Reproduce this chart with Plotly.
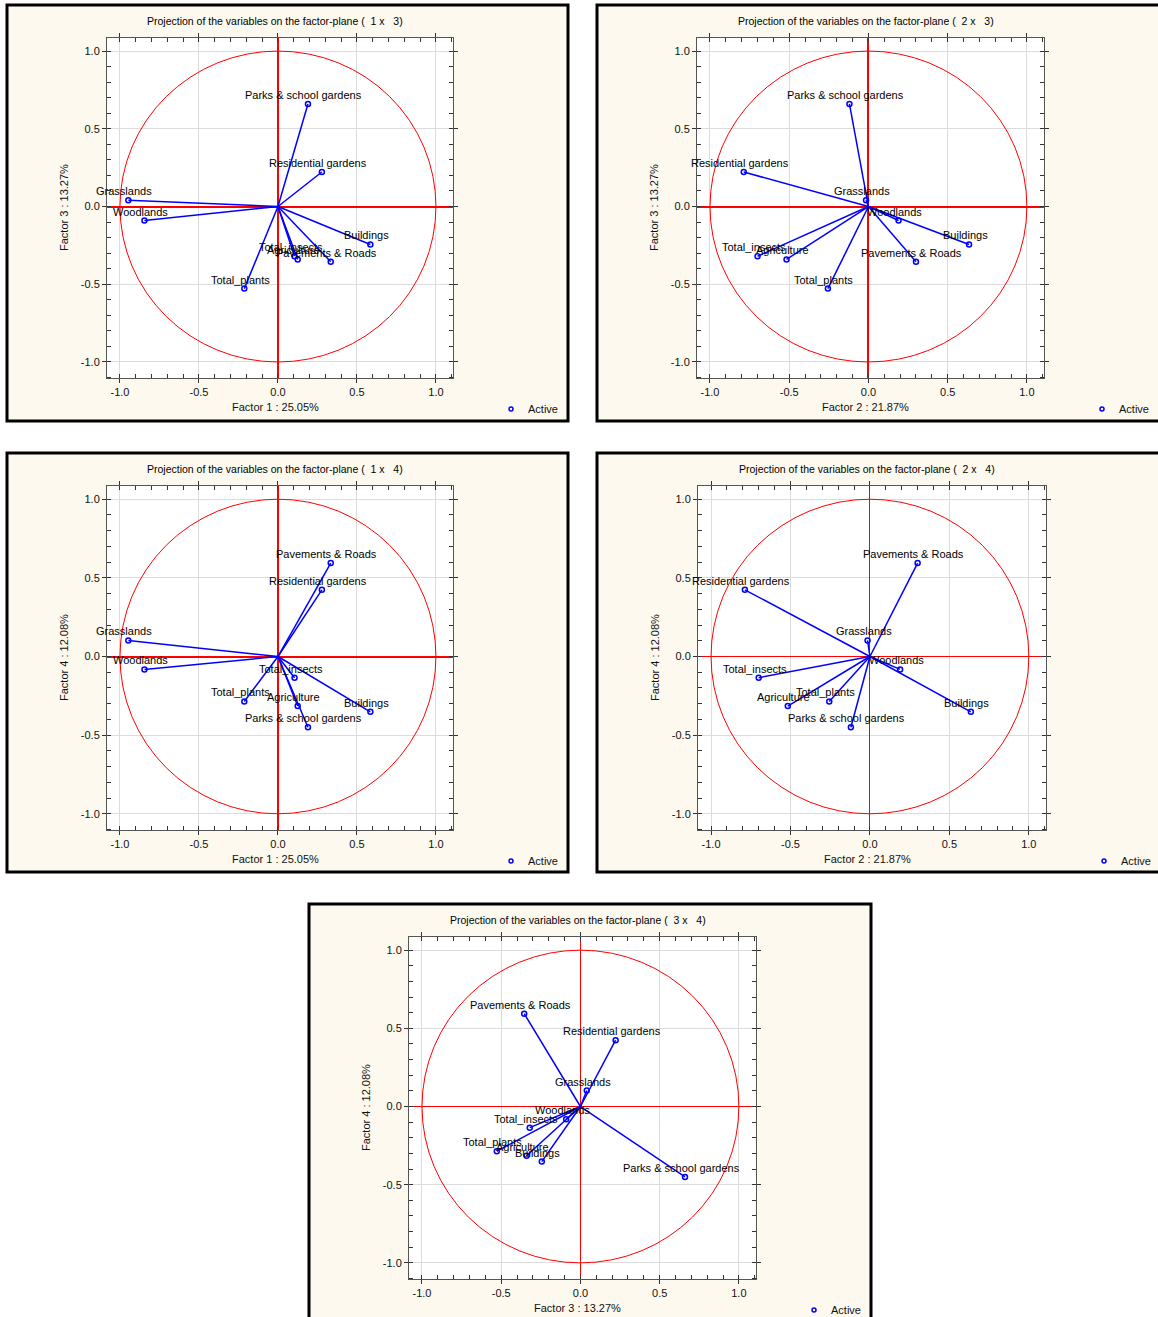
import plotly.graph_objects as go

# ---------------- data ----------------
variables = ["Grasslands", "Woodlands", "Parks & school gardens", "Residential gardens",
             "Buildings", "Pavements & Roads", "Agriculture", "Total_insects", "Total_plants"]
factor1 = [-0.947, -0.845, 0.19, 0.278, 0.585, 0.334, 0.125, 0.105, -0.213]
factor2 = [-0.015, 0.19, -0.12, -0.787, 0.635, 0.30, -0.517, -0.70, -0.256]
factor3 = [0.04, -0.09, 0.66, 0.222, -0.244, -0.355, -0.34, -0.32, -0.528]
factor4 = [0.102, -0.082, -0.45, 0.424, -0.352, 0.594, -0.315, -0.135, -0.286]
factor_names = ["Factor 1 : 25.05%", "Factor 2 : 21.87%", "Factor 3 : 13.27%", "Factor 4 : 12.08%"]
tick_values = [-1.0, -0.5, 0.0, 0.5, 1.0]
tick_labels = ["-1.0", "-0.5", "0.0", "0.5", "1.0"]
panels = [(1, 3), (2, 3), (1, 4), (2, 4), (3, 4)]
legend_label = "Active"

factors = {1: factor1, 2: factor2, 3: factor3, 4: factor4}

# ---------------- geometry (pixels) ----------------
W, H = 1158, 1317
frames = [(7, 5, 568, 421), (597, 5, 1165, 421), (7, 453, 568, 872),
          (597, 453, 1165, 872), (309, 904, 871, 1325)]
plots = [(107, 38, 453, 378), (697, 38, 1044, 378), (107, 486, 453, 830),
         (698, 486, 1046, 830), (409, 937, 756, 1279)]
zero_w = [2, 2, 2, 1, 1]

def px(x):
    return x / W

def py(y):
    return 1 - y / H

FONT = "Liberation Sans, Arial, sans-serif"
CREAM = "#FDF9EE"
BLUE = "#0000FF"
RED = "#FF0000"

fig = go.Figure()
shapes = []
annotations = []
layout_axes = {}

for i, ((fa, fb), fr, pl) in enumerate(zip(panels, frames, plots)):
    n = i + 1
    xa = "x" if n == 1 else f"x{n}"
    ya = "y" if n == 1 else f"y{n}"
    xs = factors[fa]
    ys = factors[fb]

    # frame and plot background
    shapes.append(dict(type="rect", xref="paper", yref="paper",
                       x0=px(fr[0]), x1=px(fr[2]), y0=py(fr[3]), y1=py(fr[1]),
                       fillcolor=CREAM, line=dict(color="black", width=3), layer="below"))
    shapes.append(dict(type="rect", xref="paper", yref="paper",
                       x0=px(pl[0]), x1=px(pl[2]), y0=py(pl[3]), y1=py(pl[1]),
                       fillcolor="white", line=dict(width=0), layer="below"))
    # unit circle
    shapes.append(dict(type="circle", xref=xa, yref=ya, x0=-1, y0=-1, x1=1, y1=1,
                       line=dict(color=RED, width=1), layer="above"))

    # vectors from origin
    lx, ly = [], []
    for a, b in zip(xs, ys):
        lx += [0, a, None]
        ly += [0, b, None]
    fig.add_trace(go.Scatter(x=lx, y=ly, xaxis=xa, yaxis=ya, mode="lines",
                             line=dict(color=BLUE, width=1.5), showlegend=False,
                             hoverinfo="skip"))
    fig.add_trace(go.Scatter(x=xs, y=ys, xaxis=xa, yaxis=ya, mode="markers",
                             marker=dict(symbol="circle-open", size=5, color=BLUE,
                                         line=dict(width=1.5, color=BLUE)),
                             showlegend=False, text=variables))
    for name, a, b in zip(variables, xs, ys):
        annotations.append(dict(x=a, y=b, xref=xa, yref=ya, text=name, showarrow=False,
                                xanchor="center", yanchor="bottom", xshift=-4, yshift=1,
                                font=dict(family=FONT, size=11, color="black")))

    # axes
    x0p, y0p, x1p, y1p = pl
    common = dict(tickvals=tick_values, ticktext=tick_labels, ticks="outside", ticklen=4,
                  tickcolor="#333333", showline=True, mirror="ticks", linecolor="#555555",
                  linewidth=1, showgrid=True, gridcolor="#DCDCDC", gridwidth=1,
                  zeroline=True, zerolinecolor=RED, zerolinewidth=zero_w[i],
                  tickfont=dict(family=FONT, size=11, color="#111111"),
                  minor=dict(dtick=0.1, tick0=0, ticks="inside", ticklen=4,
                             tickcolor="#333333", showgrid=False),
                  fixedrange=True)
    layout_axes["xaxis" if n == 1 else f"xaxis{n}"] = dict(
        common, domain=[px(x0p), px(x1p)], range=[-1.082, 1.108], anchor=ya)
    layout_axes["yaxis" if n == 1 else f"yaxis{n}"] = dict(
        common, domain=[py(y1p), py(y0p)], range=[-1.103, 1.084], anchor=xa)

    cx = (x0p + x1p) / 2 - 5
    # title
    annotations.append(dict(x=px(cx), y=py(y0p - 17), xref="paper", yref="paper",
                            text=f"Projection of the variables on the factor-plane (  {fa} x   {fb})",
                            showarrow=False, xanchor="center", yanchor="middle",
                            font=dict(family=FONT, size=10.5, color="black")))
    # x title
    annotations.append(dict(x=px(cx), y=py(y1p + 29), xref="paper", yref="paper",
                            text=factor_names[fa - 1], showarrow=False,
                            xanchor="center", yanchor="middle",
                            font=dict(family=FONT, size=11, color="#111111")))
    # y title
    annotations.append(dict(x=px(x0p - 43), y=py((y0p + y1p) / 2), xref="paper", yref="paper",
                            text=factor_names[fb - 1], showarrow=False, textangle=-90,
                            xanchor="center", yanchor="middle",
                            font=dict(family=FONT, size=11, color="#111111")))
    # legend
    lxp, lyp = x1p + 58, y1p + 31
    shapes.append(dict(type="circle", xref="paper", yref="paper",
                       x0=px(lxp - 2), x1=px(lxp + 2), y0=py(lyp + 2), y1=py(lyp - 2),
                       line=dict(color=BLUE, width=1.5), fillcolor="rgba(0,0,0,0)",
                       layer="above"))
    annotations.append(dict(x=px(lxp + 15), y=py(lyp), xref="paper", yref="paper",
                            text=legend_label, showarrow=False,
                            xanchor="left", yanchor="middle",
                            font=dict(family=FONT, size=11, color="#111111")))

fig.update_layout(width=W, height=H, margin=dict(l=0, r=0, t=0, b=0),
                  paper_bgcolor="white", plot_bgcolor="rgba(0,0,0,0)",
                  shapes=shapes, annotations=annotations, showlegend=False,
                  **layout_axes)

fig.write_html("out.html", config={"displayModeBar": False},
               post_script="document.body.style.margin='0';document.body.style.overflow='hidden';")
